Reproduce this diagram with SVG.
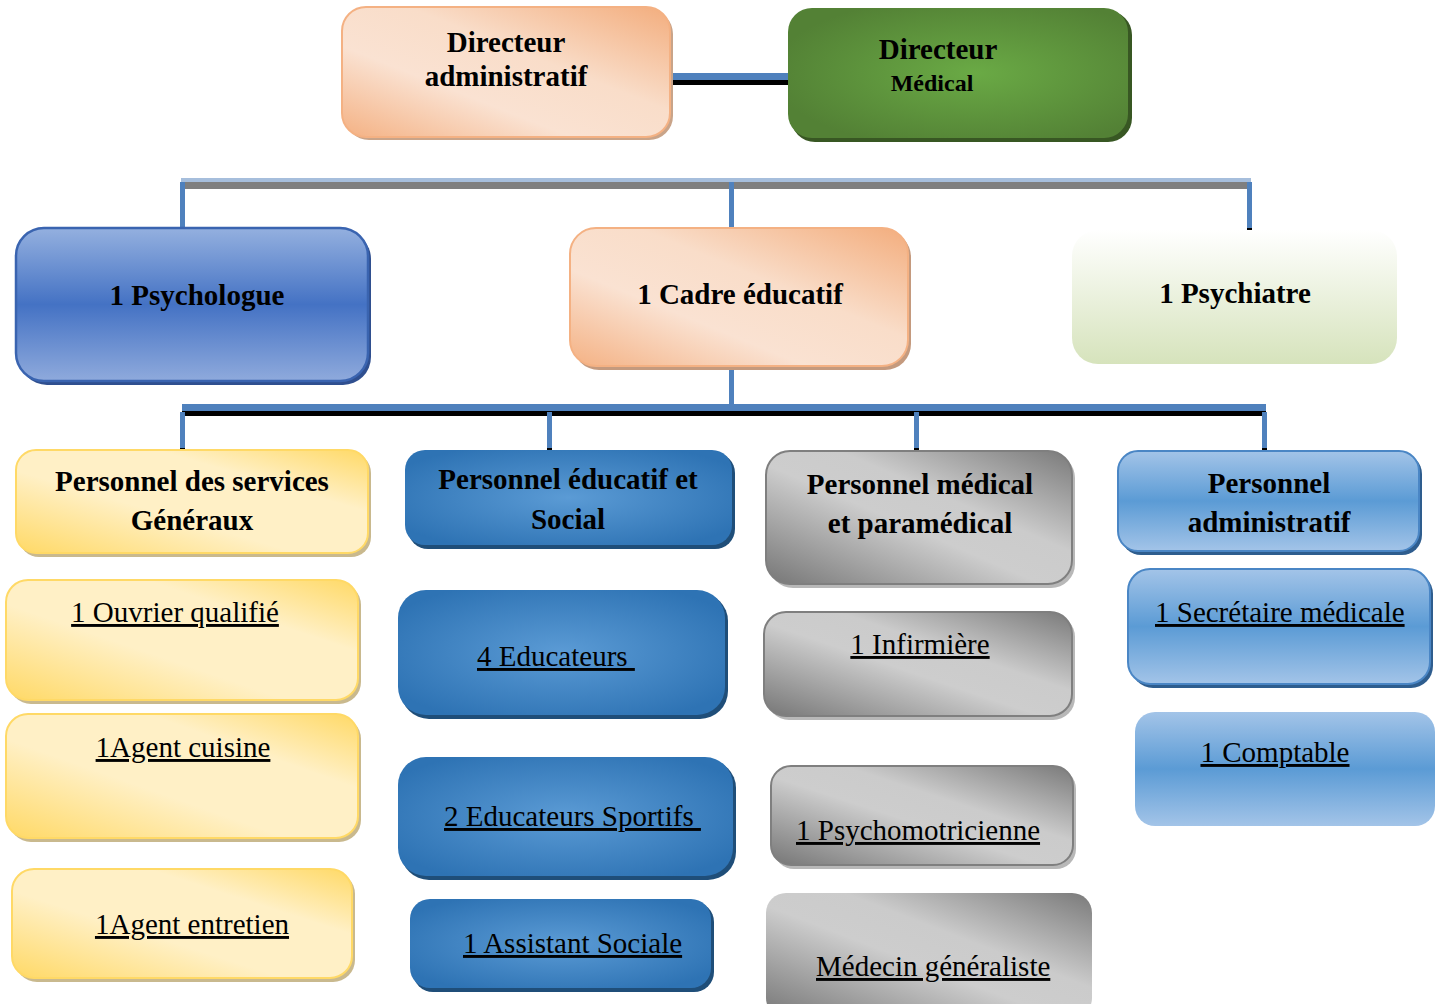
<svg xmlns="http://www.w3.org/2000/svg" width="1440" height="1004" viewBox="0 0 1440 1004">
<defs>
<style>
.hd{font-family:"Liberation Serif","Times New Roman",serif;font-weight:bold;font-size:29px;fill:#000;text-anchor:middle}
.it{font-family:"Liberation Serif","Times New Roman",serif;font-size:29px;fill:#000;text-decoration:underline}
.mid{text-anchor:middle}
</style>
<linearGradient id="gOrange" x1="0" y1="1" x2="1" y2="0">
<stop offset="0" stop-color="#f4b183"/><stop offset="0.35" stop-color="#fae2d2"/><stop offset="0.6" stop-color="#f9ddc9"/><stop offset="1" stop-color="#f3ad7d"/>
</linearGradient>
<radialGradient id="gGreen" cx="0.55" cy="0.5" r="0.6">
<stop offset="0" stop-color="#6aaa45"/><stop offset="1" stop-color="#538135"/>
</radialGradient>
<linearGradient id="gBlueV" x1="0" y1="0" x2="0" y2="1">
<stop offset="0" stop-color="#94b0df"/><stop offset="0.5" stop-color="#4472c4"/><stop offset="1" stop-color="#8faadc"/>
</linearGradient>
<radialGradient id="gBlueR" cx="0.5" cy="0.5" r="0.6">
<stop offset="0" stop-color="#5b9bd5"/><stop offset="1" stop-color="#2e73b4"/>
</radialGradient>
<linearGradient id="gGray" x1="0" y1="1" x2="1" y2="0">
<stop offset="0" stop-color="#767676"/><stop offset="0.45" stop-color="#cdcdcd"/><stop offset="0.62" stop-color="#cbcbcb"/><stop offset="1" stop-color="#7a7a7a"/>
</linearGradient>
<linearGradient id="gYellow" x1="0" y1="1" x2="1" y2="0">
<stop offset="0" stop-color="#ffd966"/><stop offset="0.4" stop-color="#fff0c6"/><stop offset="0.7" stop-color="#fff0c6"/><stop offset="1" stop-color="#ffd966"/>
</linearGradient>
<linearGradient id="gLBlue" x1="0" y1="0" x2="0" y2="1">
<stop offset="0" stop-color="#a3c4e8"/><stop offset="0.5" stop-color="#5b9bd5"/><stop offset="1" stop-color="#a3c4e8"/>
</linearGradient>
<linearGradient id="gPale" x1="0" y1="0" x2="0" y2="1">
<stop offset="0" stop-color="#ffffff"/><stop offset="1" stop-color="#d6e3bc"/>
</linearGradient>
</defs>
<rect width="1440" height="1004" fill="#fff"/>

<g id="connectors">
<rect x="672" y="73" width="116" height="7" fill="#4f81bd"/>
<rect x="672" y="80" width="116" height="5" fill="#000"/>
<rect x="181" y="178" width="1070" height="4" fill="#a6bedc"/>
<rect x="181" y="182" width="1070" height="7" fill="#7f7f7f"/>
<rect x="180" y="182" width="5" height="46" fill="#4f81bd"/>
<rect x="180" y="228" width="5" height="5" fill="#000"/>
<rect x="729" y="182" width="5" height="46" fill="#4f81bd"/>
<rect x="729" y="228" width="5" height="5" fill="#000"/>
<rect x="1247" y="182" width="5" height="46" fill="#4f81bd"/>
<rect x="1247" y="228" width="5" height="5" fill="#000"/>
<rect x="729" y="366" width="5" height="40" fill="#4f81bd"/>
<rect x="182" y="404" width="1084" height="8" fill="#4f81bd"/>
<rect x="182" y="411" width="1084" height="5" fill="#000"/>
<rect x="180" y="412" width="5" height="36" fill="#4f81bd"/>
<rect x="180" y="448" width="5" height="5" fill="#000"/>
<rect x="547" y="412" width="5" height="36" fill="#4f81bd"/>
<rect x="547" y="448" width="5" height="5" fill="#000"/>
<rect x="914" y="412" width="5" height="36" fill="#4f81bd"/>
<rect x="914" y="448" width="5" height="5" fill="#000"/>
<rect x="1262" y="412" width="5" height="36" fill="#4f81bd"/>
<rect x="1262" y="448" width="5" height="5" fill="#000"/>
</g>

<g id="n-dir-admin">
<rect x="345" y="10" width="328" height="130" rx="24" fill="#c9a489"/>
<rect x="342" y="7" width="328" height="130" rx="24" fill="url(#gOrange)" stroke="#f4b183" stroke-width="2"/>
<text class="hd" x="506" y="52">Directeur</text>
<text class="hd" x="506" y="86">administratif</text>
</g>
<g id="n-dir-med">
<rect x="791" y="11" width="341" height="131" rx="24" fill="#385723"/>
<rect x="788" y="8" width="340" height="130" rx="24" fill="url(#gGreen)"/>
<text class="hd" x="938" y="59">Directeur</text>
<text class="hd" x="932" y="91" style="font-size:24px">Médical</text>
</g>

<g id="n-psychologue">
<rect x="19" y="231" width="352" height="154" rx="28" fill="#2f4f8f"/>
<rect x="16" y="228" width="352" height="153" rx="28" fill="url(#gBlueV)" stroke="#3a64b0" stroke-width="2.5"/>
<text class="hd" x="197" y="305">1 Psychologue</text>
</g>
<g id="n-cadre">
<rect x="573" y="231" width="338" height="139" rx="26" fill="#c49a7e"/>
<rect x="570" y="228" width="338" height="138" rx="26" fill="url(#gOrange)" stroke="#f4b183" stroke-width="2"/>
<text class="hd" x="740" y="304">1 Cadre éducatif</text>
</g>
<g id="n-psychiatre">
<rect x="1072" y="230" width="325" height="134" rx="26" fill="url(#gPale)"/>
<text class="hd" x="1235" y="303">1 Psychiatre</text>
</g>

<g id="n-services">
<rect x="19" y="453" width="352" height="104" rx="20" fill="#c9b98e"/>
<rect x="16" y="450" width="352" height="103" rx="20" fill="url(#gYellow)" stroke="#ffd966" stroke-width="2"/>
<text class="hd" x="192" y="491">Personnel des services</text>
<text class="hd" x="192" y="530">Généraux</text>
</g>
<g id="n-educ">
<rect x="408" y="453" width="327" height="96" rx="20" fill="#1f4e79"/>
<rect x="405" y="450" width="327" height="95" rx="20" fill="url(#gBlueR)"/>
<text class="hd" x="568" y="489">Personnel éducatif et</text>
<text class="hd" x="568" y="529">Social</text>
</g>
<g id="n-medical">
<rect x="769" y="454" width="306" height="134" rx="24" fill="#b8b8b8"/>
<rect x="766" y="451" width="306" height="133" rx="24" fill="url(#gGray)" stroke="#7f7f7f" stroke-width="2"/>
<text class="hd" x="920" y="494">Personnel médical</text>
<text class="hd" x="920" y="533">et paramédical</text>
</g>
<g id="n-admin">
<rect x="1121" y="454" width="301" height="101" rx="20" fill="#2e5d8e"/>
<rect x="1118" y="451" width="301" height="100" rx="20" fill="url(#gLBlue)" stroke="#4a86c5" stroke-width="2"/>
<text class="hd" x="1269" y="493">Personnel</text>
<text class="hd" x="1269" y="532">administratif</text>
</g>

<g id="n-ouvrier">
<rect x="9" y="583" width="352" height="121" rx="22" fill="#c9b98e"/>
<rect x="6" y="580" width="352" height="120" rx="22" fill="url(#gYellow)" stroke="#ffd966" stroke-width="2"/>
<text class="it mid" x="175" y="622">1 Ouvrier qualifié</text>
</g>
<g id="n-cuisine">
<rect x="9" y="717" width="352" height="125" rx="22" fill="#c9b98e"/>
<rect x="6" y="714" width="352" height="124" rx="22" fill="url(#gYellow)" stroke="#ffd966" stroke-width="2"/>
<text class="it mid" x="183" y="757">1Agent cuisine</text>
</g>
<g id="n-entretien">
<rect x="15" y="872" width="340" height="110" rx="22" fill="#c9b98e"/>
<rect x="12" y="869" width="340" height="109" rx="22" fill="url(#gYellow)" stroke="#ffd966" stroke-width="2"/>
<text class="it mid" x="192" y="934">1Agent entretien</text>
</g>

<g id="n-educateurs">
<rect x="401" y="593" width="327" height="126" rx="28" fill="#1f4e79"/>
<rect x="398" y="590" width="327" height="125" rx="28" fill="url(#gBlueR)"/>
<text class="it" x="477" y="666" xml:space="preserve">4 Educateurs </text>
</g>
<g id="n-sportifs">
<rect x="401" y="760" width="335" height="120" rx="28" fill="#1f4e79"/>
<rect x="398" y="757" width="335" height="119" rx="28" fill="url(#gBlueR)"/>
<text class="it" x="444" y="826" xml:space="preserve">2 Educateurs Sportifs </text>
</g>
<g id="n-assistant">
<rect x="413" y="902" width="301" height="90" rx="20" fill="#1f4e79"/>
<rect x="410" y="899" width="301" height="89" rx="20" fill="url(#gBlueR)"/>
<text class="it" x="463" y="953">1 Assistant Sociale</text>
</g>

<g id="n-infirmiere">
<rect x="767" y="615" width="308" height="105" rx="22" fill="#b8b8b8"/>
<rect x="764" y="612" width="308" height="104" rx="22" fill="url(#gGray)" stroke="#7f7f7f" stroke-width="2"/>
<text class="it mid" x="920" y="654">1 Infirmière</text>
</g>
<g id="n-psychomot">
<rect x="774" y="769" width="302" height="100" rx="20" fill="#b8b8b8"/>
<rect x="771" y="766" width="302" height="99" rx="20" fill="url(#gGray)" stroke="#7f7f7f" stroke-width="2"/>
<text class="it" x="796" y="840">1 Psychomotricienne</text>
</g>
<g id="n-medecin">
<rect x="766" y="893" width="326" height="125" rx="20" fill="url(#gGray)"/>
<text class="it" x="816" y="976">Médecin généraliste</text>
</g>

<g id="n-secretaire">
<rect x="1131" y="572" width="302" height="116" rx="22" fill="#2e5d8e"/>
<rect x="1128" y="569" width="302" height="115" rx="22" fill="url(#gLBlue)" stroke="#4a86c5" stroke-width="2"/>
<text class="it" x="1155" y="622">1 Secrétaire médicale</text>
</g>
<g id="n-comptable">
<rect x="1135" y="712" width="300" height="114" rx="20" fill="url(#gLBlue)"/>
<text class="it mid" x="1275" y="762">1 Comptable</text>
</g>
</svg>
